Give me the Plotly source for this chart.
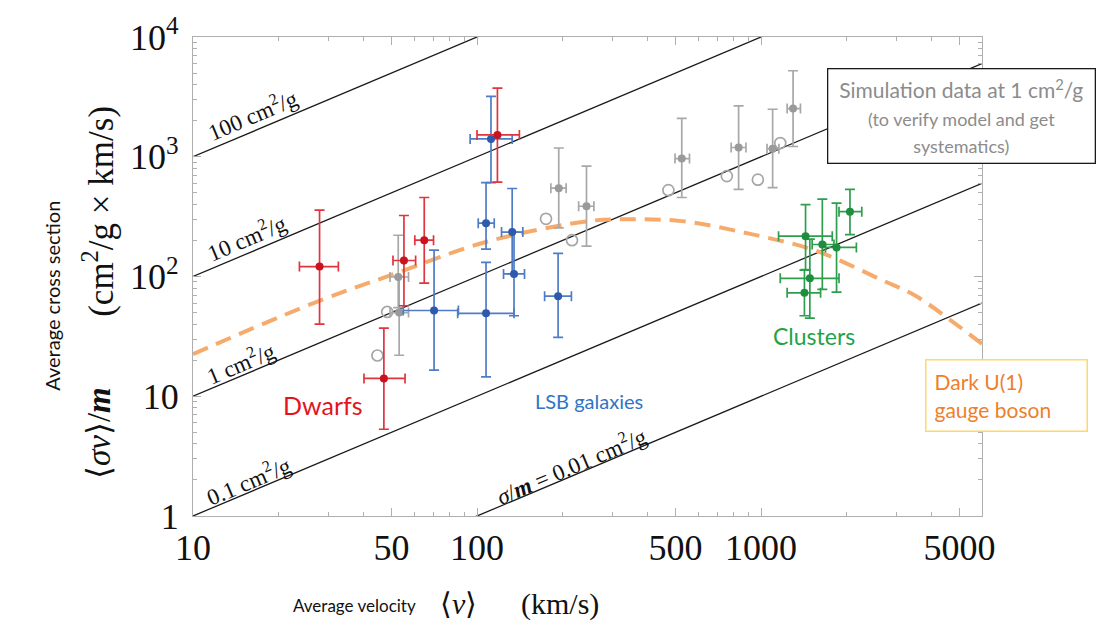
import plotly.graph_objects as go
import numpy as np

# ---------------- data ----------------
# Dwarfs
dw_v = [27.9, 55.3, 65.2, 47.0, 118]
dw_v_lo = [23.7, 50.6, 60.4, 40.0, 100]
dw_v_hi = [32.5, 60.8, 70.3, 55.8, 141]
dw_y = [121, 136, 201, 14.1, 1521]
dw_y_lo = [40, 57, 88, 5.3, 615]
dw_y_hi = [359, 323, 457, 37, 3735]

# LSB galaxies
lsb_v = [112, 107.6, 107.6, 133, 135, 70.6, 193]
lsb_v_lo = [94.6, 101, 85.5, 122, 124, 55, 173]
lsb_v_hi = [133, 115, 135, 145, 147, 86, 215]
lsb_y = [1410, 279, 49.3, 235, 105, 52, 68.5]
lsb_y_lo = [608, 169, 14.5, 105, 47, 16.5, 31]
lsb_y_hi = [3190, 608, 131, 543, 235, 166, 156]

# Simulation data (filled, with error bars)
sim_v = [52.8, 53.2, 194, 243, 526, 834, 1099, 1297]
sim_v_lo = [49.4, 49.4, 182, 228, 498, 785, 1050, 1236]
sim_v_hi = [57.4, 57.4, 206, 258, 560, 885, 1156, 1377]
sim_y = [99, 50, 546, 386, 965, 1195, 1166, 2525]
sim_y_lo = [55, 22, 255, 179, 457, 535, 553, 1218]
sim_y_hi = [221, 100, 1183, 834, 2089, 2655, 2493, 5225]

# Simulation data (open circles)
sim_open_v = [48.3, 44.6, 175, 216, 472, 758, 975, 1169]
sim_open_y = [50.6, 21.9, 303, 201, 526, 689, 644, 1300]

# Clusters
cl_v = [2057, 1435, 1644, 1845, 1486, 1422]
cl_v_lo = [1882, 1153, 1514, 1687, 1169, 1236]
cl_v_hi = [2264, 1782, 1807, 2167, 1882, 1621]
cl_y = [348, 217, 185, 175, 96.5, 73]
cl_y_lo = [224, 114, 78, 74, 45, 47]
cl_y_hi = [535, 398, 443, 410, 205, 113]

# Dark U(1) gauge boson model curve
model_v = [10, 28, 50, 109, 253, 350, 526, 907, 1549, 2673, 3500, 4600, 6000]
model_y = [22.5, 63, 103, 196, 292, 300, 290, 228, 165, 93, 69, 44, 27.4]

# constant cross-section lines (cm^2/g)
sigma_m = [100, 10, 1, 0.1, 0.01]
line_v = [10, 6000]

x_ticks = [10, 50, 100, 500, 1000, 5000]
x_ticktext = ["10", "50", "100", "500", "1000", "5000"]
y_ticks = [1, 10, 100, 1000, 10000]
y_ticktext = ["1", "10", "10<sup>2</sup>", "10<sup>3</sup>", "10<sup>4</sup>"]

# ---------------- figure ----------------
W, H = 1109, 629
L, R, T, B = 193, 982, 31, 516


def px(x, y):
    return (x - L) / (R - L), (B - y) / (B - T)


fig = go.Figure()

for s in sigma_m:
    fig.add_trace(go.Scatter(x=line_v, y=[s * v for v in line_v], mode="lines",
                             line=dict(color="#1a1a1a", width=1.3),
                             hoverinfo="skip", showlegend=False))

fig.add_trace(go.Scatter(x=model_v, y=model_y, mode="lines",
                         line=dict(color="#F6AB6C", width=4, dash="16px,9px", shape="spline"),
                         showlegend=False))


def errtrace(v, vlo, vhi, y, ylo, yhi, ecol, mcol):
    v = np.array(v, float); y = np.array(y, float)
    return go.Scatter(
        x=v, y=y, mode="markers",
        marker=dict(color=mcol, size=8),
        error_x=dict(type="data", symmetric=False, array=np.array(vhi) - v,
                     arrayminus=v - np.array(vlo), color=ecol, thickness=1.7, width=5),
        error_y=dict(type="data", symmetric=False, array=np.array(yhi) - y,
                     arrayminus=y - np.array(ylo), color=ecol, thickness=1.7, width=5),
        showlegend=False)


fig.add_trace(go.Scatter(x=sim_open_v, y=sim_open_y, mode="markers",
                         marker=dict(symbol="circle-open", size=11, color="#A6A6A6",
                                     line=dict(width=1.7, color="#A6A6A6")),
                         showlegend=False))
fig.add_trace(errtrace(sim_v, sim_v_lo, sim_v_hi, sim_y, sim_y_lo, sim_y_hi, "#A8A8A8", "#9A9A9A"))
fig.add_trace(errtrace(lsb_v, lsb_v_lo, lsb_v_hi, lsb_y, lsb_y_lo, lsb_y_hi, "#4F7CC4", "#2E5AAE"))
fig.add_trace(errtrace(dw_v, dw_v_lo, dw_v_hi, dw_y, dw_y_lo, dw_y_hi, "#E0353F", "#C8141E"))
fig.add_trace(errtrace(cl_v, cl_v_lo, cl_v_hi, cl_y, cl_y_lo, cl_y_hi, "#2E9E4E", "#1E8E3E"))

serif = "Liberation Serif"
sans = "Lato"

annotations = []


def ann(text, x, y, size, color="#111", font=serif, angle=0, **kw):
    xp, yp = px(x, y)
    d = dict(text=text, x=xp, y=yp, xref="paper", yref="paper", showarrow=False,
             font=dict(family=font, size=size, color=color), textangle=angle,
             xanchor="center", yanchor="middle")
    d.update(kw)
    annotations.append(d)


ang = -23
ann("100 cm<sup>2</sup>/g", 252, 109, 23, angle=ang)
ann("10 cm<sup>2</sup>/g", 246, 234, 23, angle=ang)
ann("1 cm<sup>2</sup>/g", 241, 361, 23, angle=ang)
ann("0.1 cm<sup>2</sup>/g", 248, 480, 23, angle=ang)
ann("<i>σ</i>/<b><i>m</i></b> = 0.01 cm<sup>2</sup>/g", 571, 465, 23, angle=ang)

ann("Dwarfs", 323, 404, 25, color="#E3141E", font=sans)
ann("LSB galaxies", 589, 400, 20, color="#2E75C6", font=sans)
ann("Clusters", 814, 334, 23, color="#1FA34A", font=sans)

# boxes
x0, y0 = px(827, 64)
x1, y1 = px(1095, 158)
annotations.append(dict(
    text="Simulation data at 1 cm<sup>2</sup>/g<br><span style='font-size:18px'>(to verify model and get</span><br><span style='font-size:18px'>systematics)</span>",
    x=(x0 + x1) / 2, y=(y0 + y1) / 2, xref="paper", yref="paper", showarrow=False,
    font=dict(family=sans, size=21, color="#8C8C8C"), align="center",
    width=264, height=91, bordercolor="#1a1a1a", borderwidth=1.3, bgcolor="white",
    borderpad=1, xanchor="center", yanchor="middle"))

x0, y0 = px(926, 358)
x1, y1 = px(1088, 430)
annotations.append(dict(
    text="Dark U(1)<br>gauge boson",
    x=(x0 + x1) / 2, y=(y0 + y1) / 2, xref="paper", yref="paper", showarrow=False,
    font=dict(family=sans, size=21, color="#EE7F2D"), align="left",
    width=144, height=54, bordercolor="#FFD966", borderwidth=1.5, bgcolor="white",
    borderpad=8, xanchor="center", yanchor="middle"))

# axis titles
ann("Average cross section", 52, 293, 20, font=sans, angle=-90)
ann("⟨<i>σv</i>⟩/<b><i>m</i></b>", 99, 432, 33, angle=-90)
ann("(cm<sup>2</sup>/g × km/s)", 99, 208, 35, angle=-90)
ann("Average velocity", 354, 607, 17, font=sans)
ann("⟨<i>v</i>⟩", 458, 605, 30)
ann("(km/s)", 560, 605, 30)

axis_common = dict(type="log", showgrid=False, zeroline=False, showline=True,
                   linecolor="#AFAFAF", linewidth=1.2, mirror="allticks",
                   ticks="inside", ticklen=8, tickcolor="#AFAFAF", tickwidth=1,
                   tickfont=dict(family=serif, size=36, color="#111"))

minor_x = [20, 30, 40, 60, 70, 80, 90, 200, 300, 400, 600, 700, 800, 900, 2000, 3000, 4000]
minor_y = [m * d for d in [1, 10, 100, 1000] for m in range(2, 10)]

fig.update_xaxes(**axis_common, range=[1, np.log10(6000)], tickmode="array",
                 tickvals=x_ticks, ticktext=x_ticktext,
                 minor=dict(ticks="inside", ticklen=4, tickcolor="#AFAFAF",
                            tickmode="array", tickvals=minor_x, showgrid=False))
fig.update_yaxes(**axis_common, range=[0, 4], tickmode="array",
                 tickvals=y_ticks, ticktext=y_ticktext, ticklabelstandoff=6,
                 minor=dict(ticks="inside", ticklen=4, tickcolor="#AFAFAF",
                            tickmode="array", tickvals=minor_y, showgrid=False))

fig.update_layout(width=W, height=H, margin=dict(l=L, r=W - R, t=T, b=H - B),
                  paper_bgcolor="white", plot_bgcolor="white",
                  annotations=annotations, showlegend=False)

fig.write_html("out.html")
